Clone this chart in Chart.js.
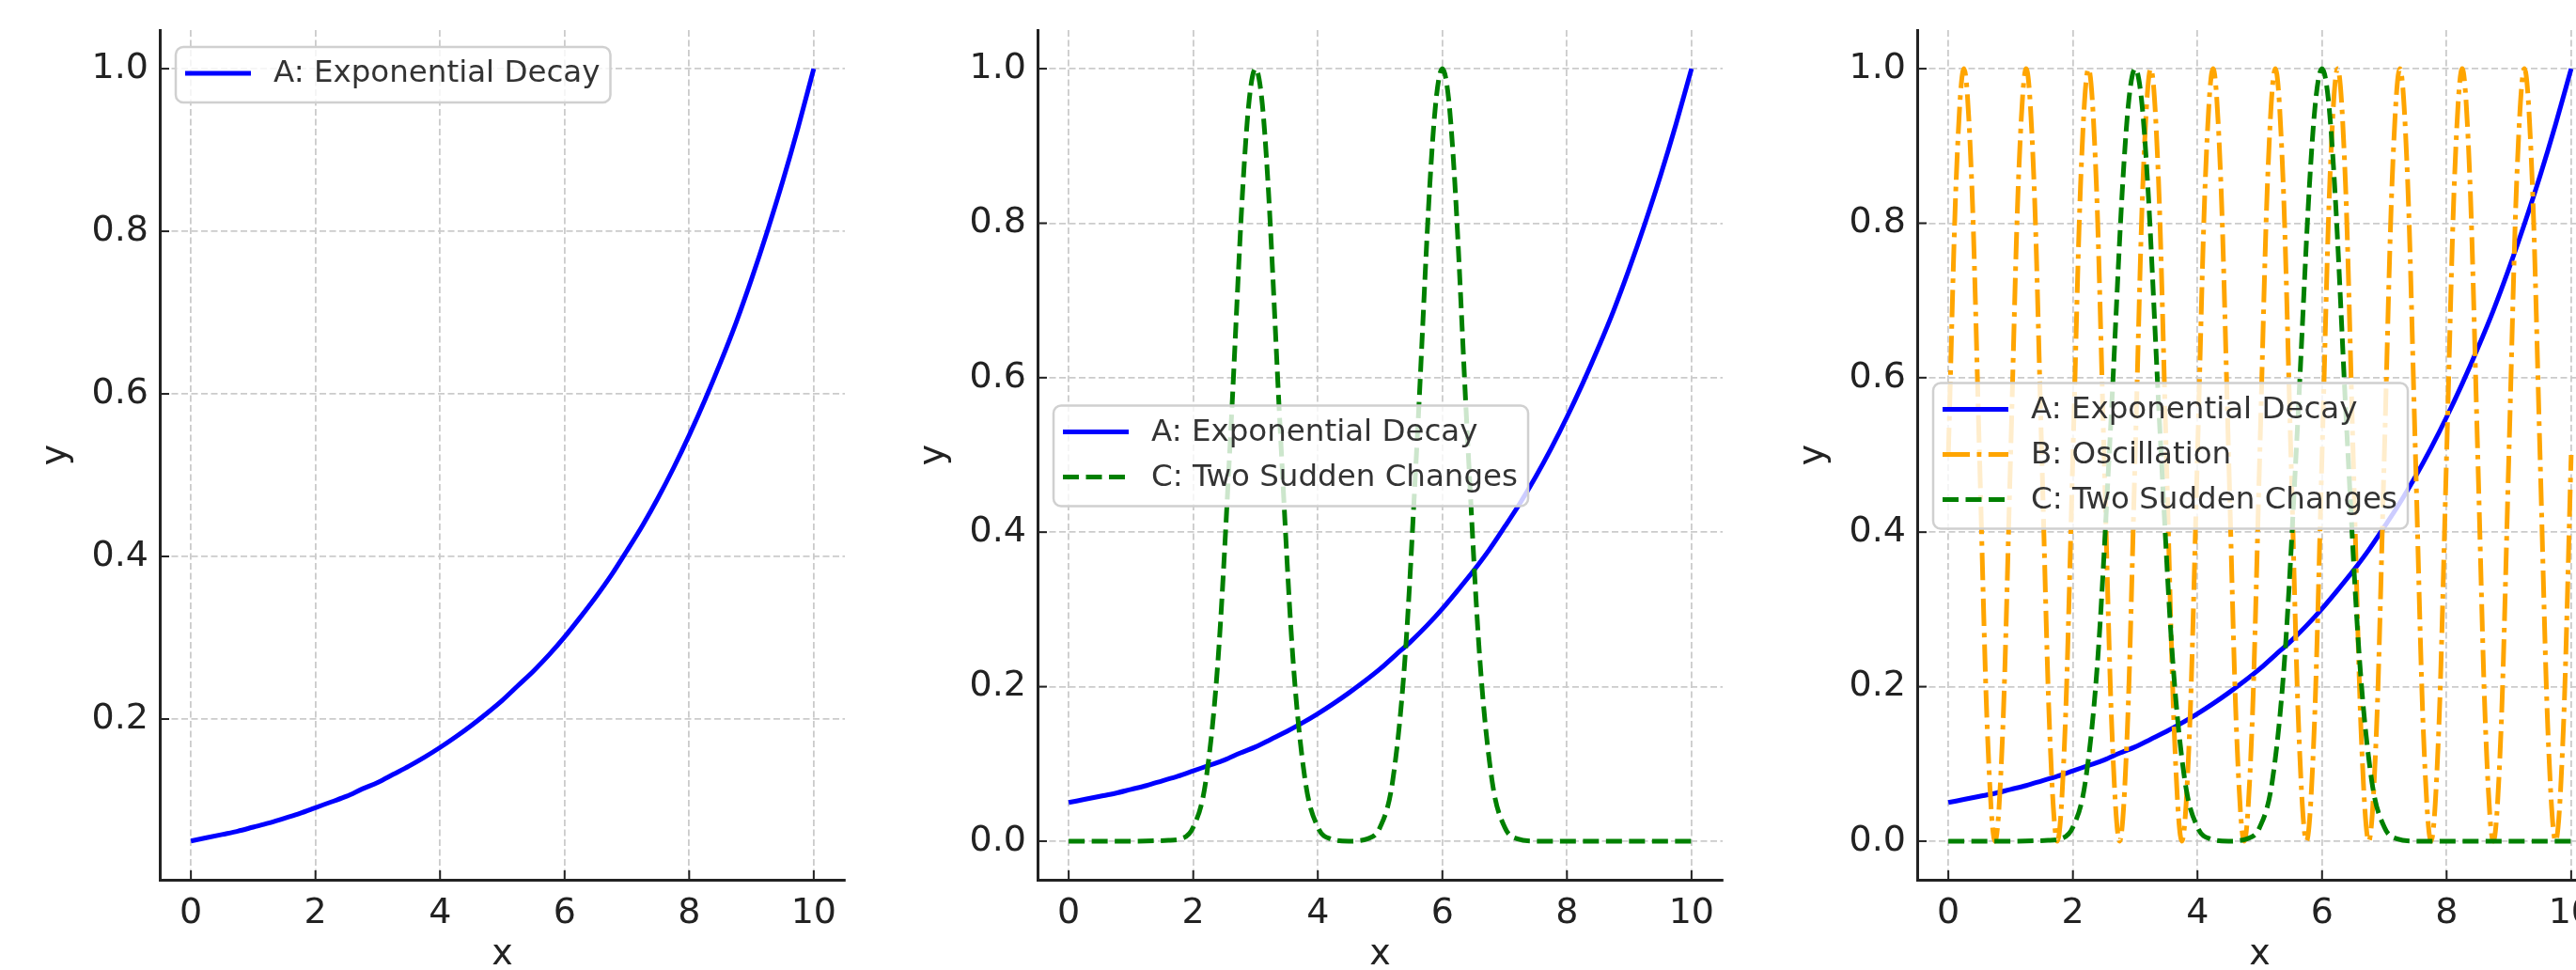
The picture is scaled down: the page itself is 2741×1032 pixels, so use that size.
<!DOCTYPE html>
<html>
<head>
<meta charset="utf-8">
<script src="https://cdn.jsdelivr.net/npm/chart.js@4"></script>
<style>
    html, body { margin: 0; padding: 0; background: #fff; overflow: hidden; }
    .panel { position: absolute; top: 0; width: 879px; height: 1070px; }
</style>
</head>
<body>
<div class="panel" id="p1"><canvas id="c1"></canvas></div>
<div class="panel" id="p2"><canvas id="c2"></canvas></div>
<div class="panel" id="p3"><canvas id="c3"></canvas></div>
<script>
// Tick labels
const xTicks = [0, 2, 4, 6, 8, 10];
const yTicks = [0, 0.2, 0.4, 0.6, 0.8, 1.0];
const yTicksFirst = [0.2, 0.4, 0.6, 0.8, 1.0];

// A: Exponential Decay
const expX = [0, 0.25, 0.5, 0.75, 1, 1.25, 1.5, 1.75, 2, 2.25, 2.5, 2.75, 3, 3.25, 3.5, 3.75, 4, 4.25, 4.5, 4.75,
              5, 5.25, 5.5, 5.75, 6, 6.25, 6.5, 6.75, 7, 7.25, 7.5, 7.75, 8, 8.25, 8.5, 8.75, 9, 9.25, 9.5, 9.75, 10];
const expY = [0.050, 0.054, 0.058, 0.062, 0.067, 0.072, 0.078, 0.084, 0.091, 0.098, 0.105, 0.114, 0.122, 0.132,
              0.142, 0.153, 0.165, 0.178, 0.192, 0.207, 0.223, 0.241, 0.259, 0.279, 0.301, 0.325, 0.350, 0.377,
              0.407, 0.438, 0.472, 0.509, 0.549, 0.592, 0.638, 0.687, 0.741, 0.799, 0.861, 0.928, 1.000];

// B: Oscillation (orange dash-dot)
const oscX = [
    0, 0.125, 0.25, 0.375, 0.5, 0.625, 0.75, 0.875,
    1, 1.125, 1.25, 1.375, 1.5, 1.625, 1.75, 1.875,
    2, 2.125, 2.25, 2.375, 2.5, 2.625, 2.75, 2.875,
    3, 3.125, 3.25, 3.375, 3.5, 3.625, 3.75, 3.875,
    4, 4.125, 4.25, 4.375, 4.5, 4.625, 4.75, 4.875,
    5, 5.125, 5.25, 5.375, 5.5, 5.625, 5.75, 5.875,
    6, 6.125, 6.25, 6.375, 6.5, 6.625, 6.75, 6.875,
    7, 7.125, 7.25, 7.375, 7.5, 7.625, 7.75, 7.875,
    8, 8.125, 8.25, 8.375, 8.5, 8.625, 8.75, 8.875,
    9, 9.125, 9.25, 9.375, 9.5, 9.625, 9.75, 9.875,
    10
];
const oscY = [
    0.5, 0.854, 1, 0.854, 0.5, 0.146, 0, 0.146,
    0.5, 0.854, 1, 0.854, 0.5, 0.146, 0, 0.146,
    0.5, 0.854, 1, 0.854, 0.5, 0.146, 0, 0.146,
    0.5, 0.854, 1, 0.854, 0.5, 0.146, 0, 0.146,
    0.5, 0.854, 1, 0.854, 0.5, 0.146, 0, 0.146,
    0.5, 0.854, 1, 0.854, 0.5, 0.146, 0, 0.146,
    0.5, 0.854, 1, 0.854, 0.5, 0.146, 0, 0.146,
    0.5, 0.854, 1, 0.854, 0.5, 0.146, 0, 0.146,
    0.5, 0.854, 1, 0.854, 0.5, 0.146, 0, 0.146,
    0.5, 0.854, 1, 0.854, 0.5, 0.146, 0, 0.146,
    0.5
];

// C: Two Sudden Changes (green dashed bumps at 3 and 6)
const bumpX = [0, 1, 1.6, 1.8, 2.0, 2.2, 2.4, 2.6, 2.8, 2.9, 3.0, 3.1, 3.2, 3.4, 3.6, 3.8, 4.0, 4.2, 4.5,
               4.8, 5.0, 5.2, 5.4, 5.6, 5.8, 5.9, 6.0, 6.1, 6.2, 6.4, 6.6, 6.8, 7.0, 7.2, 7.5, 8.5, 10];
const bumpY = [0, 0, 0.001, 0.003, 0.018, 0.077, 0.237, 0.527, 0.852, 0.961, 1.0, 0.961, 0.852, 0.527, 0.237, 0.077, 0.018, 0.003, 0,
               0.003, 0.018, 0.077, 0.237, 0.527, 0.852, 0.961, 1.0, 0.961, 0.852, 0.527, 0.237, 0.077, 0.018, 0.003, 0, 0, 0];

const toPoints = (xs, ys) => xs.map((x, i) => ({ x: x, y: ys[i] }));

const series = {
    A: { label: 'A: Exponential Decay', data: toPoints(expX, expY), borderColor: '#0000ff', borderDash: [], order: 3 },
    B: { label: 'B: Oscillation', data: toPoints(oscX, oscY), borderColor: '#ffa500', borderDash: [29, 7.5, 4.8, 7.5], order: 2 },
    C: { label: 'C: Two Sudden Changes', data: toPoints(bumpX, bumpY), borderColor: '#008000', borderDash: [17, 7.5], order: 1 }
};

Chart.defaults.font.family = '"DejaVu Sans", sans-serif';
Chart.defaults.color = '#222';

// matplotlib style inward ticks
const inTicks = {
    id: 'inTicks',
    afterDatasetsDraw(chart) {
        const { ctx, chartArea, scales } = chart;
        ctx.save();
        ctx.strokeStyle = '#222';
        ctx.lineWidth = 2;
        scales.x.ticks.forEach(t => {
            const px = scales.x.getPixelForValue(t.value);
            ctx.beginPath();
            ctx.moveTo(px, chartArea.bottom);
            ctx.lineTo(px, chartArea.bottom - 10);
            ctx.stroke();
        });
        scales.y.ticks.forEach(t => {
            const py = scales.y.getPixelForValue(t.value);
            ctx.beginPath();
            ctx.moveTo(chartArea.left, py);
            ctx.lineTo(chartArea.left + 10, py);
            ctx.stroke();
        });
        ctx.restore();
    }
};

// legend box inside the plot area
const boxLegend = {
    id: 'boxLegend',
    afterDraw(chart, args, opts) {
        const { ctx, chartArea } = chart;
        const sets = chart.data.datasets;
        ctx.save();
        ctx.font = '32.5px "DejaVu Sans"';
        const textW = Math.max(...sets.map(d => ctx.measureText(d.label).width));
        const w = 104 + textW + 11;
        const h = 59 + 48 * (sets.length - 1);
        const x = chartArea.left + 17;
        const y = opts.loc === 'upper left'
            ? chartArea.top + 18
            : (chartArea.top + chartArea.bottom) / 2 - h / 2 + 1;
        ctx.beginPath();
        ctx.roundRect(x, y, w, h, 8);
        ctx.fillStyle = 'rgba(255,255,255,0.8)';
        ctx.fill();
        ctx.lineWidth = 2.5;
        ctx.strokeStyle = '#d0d0d0';
        ctx.stroke();
        sets.forEach((d, i) => {
            const cy = y + 28 + 48 * i;
            ctx.beginPath();
            ctx.setLineDash(d.borderDash);
            ctx.strokeStyle = d.borderColor;
            ctx.lineWidth = d.borderWidth;
            ctx.moveTo(x + 10, cy);
            ctx.lineTo(x + 80, cy);
            ctx.stroke();
            ctx.setLineDash([]);
            ctx.fillStyle = '#333';
            ctx.textBaseline = 'middle';
            ctx.fillText(d.label, x + 104, cy + 1);
        });
        ctx.restore();
    }
};

const panels = [
    { id: 'c1', box: 'p1', spine: 170, yMin: 0.0023, yMax: 1.0475, ticks: yTicksFirst, keys: ['A'], loc: 'upper left' },
    { id: 'c2', box: 'p2', spine: 1104, yMin: -0.05, yMax: 1.05, ticks: yTicks, keys: ['A', 'C'], loc: 'center left' },
    { id: 'c3', box: 'p3', spine: 2040, yMin: -0.05, yMax: 1.05, ticks: yTicks, keys: ['A', 'B', 'C'], loc: 'center left' }
];

function makePanel(p) {
    document.getElementById(p.box).style.left = (p.spine - 140) + 'px';

    const datasets = p.keys.map(k => Object.assign({
        borderWidth: 5,
        pointRadius: 0,
        fill: false,
        cubicInterpolationMode: 'monotone',
        borderJoinStyle: 'round'
    }, series[k]));

    new Chart(document.getElementById(p.id), {
        type: 'line',
        data: { datasets: datasets },
        options: {
            responsive: true,
            maintainAspectRatio: false,
            animation: false,
            events: [],
            layout: { padding: { top: 32, right: 10, left: 0, bottom: 0 } },
            scales: {
                x: {
                    type: 'linear',
                    min: -0.5,
                    max: 10.5,
                    afterBuildTicks: s => { s.ticks = xTicks.map(v => ({ value: v })); },
                    afterFit: s => { s.height = 134; s.paddingLeft = 0; s.paddingRight = 0; },
                    grid: { color: '#cbcbcb', lineWidth: 1.8, drawTicks: false },
                    border: { display: true, color: '#222', width: 3, dash: [7, 3.5] },
                    ticks: { padding: 13, color: '#222', font: { size: 38 }, callback: v => String(v) },
                    title: { display: true, text: 'x', color: '#222', font: { size: 38 }, padding: { top: 0, bottom: 31 } }
                },
                y: {
                    type: 'linear',
                    min: p.yMin,
                    max: p.yMax,
                    afterBuildTicks: s => { s.ticks = p.ticks.map(v => ({ value: v })); },
                    afterFit: s => { s.width = 140; s.paddingTop = 0; s.paddingBottom = 0; },
                    grid: { color: '#cbcbcb', lineWidth: 1.8, drawTicks: false },
                    border: { display: true, color: '#222', width: 3, dash: [7, 3.5] },
                    ticks: { padding: 12, color: '#222', font: { size: 38 }, callback: v => v.toFixed(1) },
                    title: { display: true, text: 'y', color: '#222', font: { size: 38 }, padding: { top: 7, bottom: 0 } }
                }
            },
            plugins: {
                legend: { display: false },
                tooltip: { enabled: false },
                boxLegend: { loc: p.loc }
            }
        },
        plugins: [inTicks, boxLegend]
    });
}

panels.forEach(makePanel);
</script>
</body>
</html>
